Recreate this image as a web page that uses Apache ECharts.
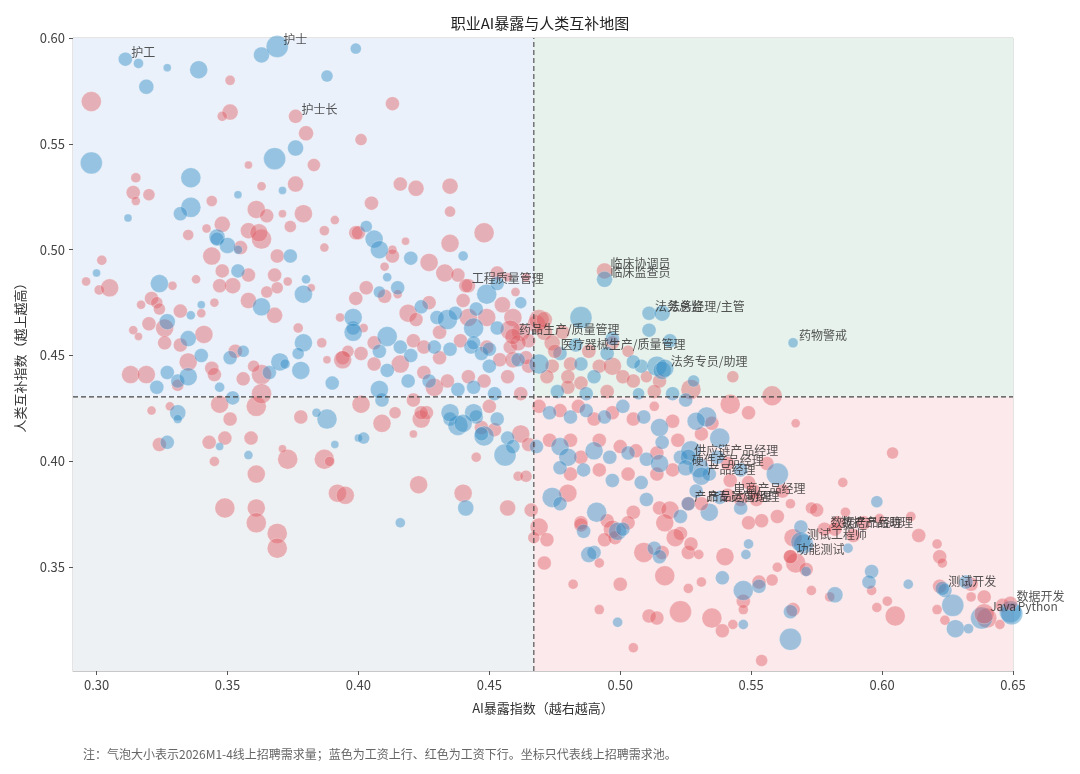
<!DOCTYPE html>
<html>
<head>
<meta charset="utf-8">
<script src="https://cdn.jsdelivr.net/npm/echarts@6/dist/echarts.min.js"></script>
<style>
  html, body { margin: 0; padding: 0; background: #fff; }
  #chart { width: 1080px; height: 774px; }
</style>
</head>
<body>
<div id="chart"></div>
<script>
// [AI暴露指数, 人类互补指数, 气泡直径]
var bluePoints = [
  [0.298,0.541,22],[0.316,0.588,10],[0.319,0.577,15],[0.327,0.586,8],[0.339,0.585,18],[0.363,0.592,16],[0.399,0.595,11],[0.388,0.582,12],
  [0.376,0.548,16],[0.368,0.543,22],[0.336,0.534,20],[0.312,0.515,8],[0.336,0.520,20],[0.332,0.517,14],[0.354,0.526,8],[0.371,0.528,8],
  [0.346,0.506,16],[0.374,0.497,14],[0.440,0.497,10],[0.420,0.496,14],[0.411,0.487,9],[0.403,0.511,12],[0.406,0.505,18],[0.408,0.500,18],
  [0.300,0.489,8],[0.324,0.484,18],[0.346,0.505,14],[0.350,0.502,16],[0.354,0.500,9],[0.354,0.490,14],[0.363,0.473,18],[0.379,0.479,18],
  [0.380,0.486,9],[0.327,0.466,16],[0.336,0.469,9],[0.340,0.474,8],[0.335,0.458,16],[0.340,0.450,14],[0.323,0.435,14],[0.327,0.442,14],
  [0.331,0.438,14],[0.335,0.440,18],[0.351,0.449,14],[0.356,0.452,12],[0.366,0.442,14],[0.370,0.447,18],[0.372,0.446,10],[0.378,0.443,18],
  [0.379,0.456,18],[0.377,0.451,12],[0.390,0.437,14],[0.398,0.463,14],[0.398,0.468,18],[0.347,0.435,10],[0.352,0.430,14],[0.331,0.423,16],
  [0.331,0.420,9],[0.388,0.420,20],[0.384,0.423,9],[0.327,0.409,14],[0.347,0.407,8],[0.358,0.403,9],[0.391,0.408,8],[0.400,0.411,8],
  [0.402,0.411,12],[0.409,0.429,14],[0.435,0.420,14],[0.438,0.417,20],[0.445,0.421,14],[0.448,0.412,20],[0.441,0.378,16],[0.416,0.371,10],
  [0.408,0.480,12],[0.415,0.482,14],[0.398,0.461,18],[0.411,0.459,20],[0.408,0.452,14],[0.424,0.473,14],[0.430,0.468,14],[0.434,0.467,20],
  [0.437,0.470,14],[0.444,0.463,20],[0.453,0.463,14],[0.416,0.454,14],[0.420,0.450,14],[0.429,0.454,14],[0.435,0.453,14],[0.443,0.454,14],
  [0.447,0.451,14],[0.450,0.445,14],[0.461,0.448,14],[0.411,0.443,14],[0.419,0.438,14],[0.427,0.438,14],[0.438,0.434,14],[0.444,0.435,14],
  [0.452,0.432,14],[0.408,0.434,18],[0.435,0.423,18],[0.444,0.423,18],[0.453,0.420,14],[0.449,0.479,20],[0.453,0.484,14],[0.445,0.472,14],
  [0.462,0.475,12],
  [0.444,0.456,14],[0.450,0.453,14],[0.469,0.446,20],[0.477,0.451,14],[0.485,0.446,14],[0.490,0.440,14],[0.495,0.451,14],[0.508,0.445,14],
  [0.514,0.445,20],[0.528,0.438,12],[0.485,0.468,22],[0.511,0.462,14],[0.519,0.457,14],[0.516,0.443,18],[0.483,0.455,14],[0.497,0.458,14],
  [0.505,0.447,14],[0.487,0.432,14],[0.507,0.432,12],[0.520,0.432,14],[0.476,0.433,14],
  [0.473,0.423,14],[0.481,0.421,14],[0.487,0.424,14],[0.494,0.421,14],[0.501,0.426,14],[0.509,0.421,14],[0.515,0.416,18],[0.533,0.421,20],
  [0.440,0.418,18],[0.447,0.413,14],[0.457,0.411,14],[0.459,0.407,14],[0.468,0.407,14],[0.477,0.407,18],[0.480,0.402,18],[0.490,0.405,18],
  [0.496,0.402,14],[0.503,0.404,14],[0.510,0.401,14],[0.516,0.409,14],[0.523,0.402,14],[0.456,0.403,22],[0.477,0.397,14],[0.486,0.396,14],
  [0.497,0.391,14],[0.508,0.390,14],[0.515,0.399,18],[0.474,0.383,20],[0.477,0.380,14],[0.491,0.376,20],[0.510,0.382,14],[0.486,0.367,14],
  [0.499,0.367,18],[0.513,0.359,14],[0.490,0.357,14],
  [0.525,0.429,14],[0.529,0.419,18],[0.538,0.411,20],[0.527,0.405,20],[0.530,0.397,20],[0.534,0.394,14],[0.537,0.402,14],[0.546,0.396,14],
  [0.560,0.394,22],[0.538,0.383,14],[0.534,0.376,18],[0.529,0.386,14],[0.523,0.374,14],[0.515,0.355,14],[0.549,0.361,10],[0.546,0.378,14],
  [0.569,0.369,14],[0.570,0.361,20],[0.571,0.348,10],[0.565,0.316,22],[0.565,0.329,14],[0.547,0.339,20],[0.547,0.323,10],[0.553,0.341,14],
  [0.539,0.345,14],[0.499,0.324,10],[0.488,0.356,16],[0.501,0.368,14],[0.548,0.356,10],[0.582,0.337,16],[0.598,0.381,12],[0.587,0.359,10],
  [0.596,0.348,14],[0.595,0.343,14],[0.610,0.342,10],[0.624,0.339,14],[0.627,0.332,22],[0.628,0.321,18],[0.633,0.321,10],[0.638,0.326,22],
  [0.649,0.329,22],[0.632,0.343,14]
];

var redPoints = [
  [0.298,0.570,20],[0.351,0.580,10],[0.351,0.565,16],[0.348,0.563,10],[0.380,0.555,15],[0.413,0.569,14],[0.401,0.552,12],[0.383,0.540,13],
  [0.358,0.540,8],[0.315,0.534,10],[0.314,0.527,14],[0.315,0.523,9],[0.320,0.526,12],[0.344,0.523,11],[0.363,0.530,9],[0.376,0.531,16],
  [0.361,0.519,18],[0.365,0.516,14],[0.371,0.517,8],[0.379,0.517,18],[0.391,0.514,9],[0.335,0.507,11],[0.358,0.509,16],[0.374,0.511,12],
  [0.387,0.509,10],[0.387,0.501,9],[0.399,0.508,14],[0.405,0.522,14],[0.416,0.531,14],[0.422,0.529,16],[0.435,0.530,16],[0.435,0.518,11],
  [0.448,0.508,20],[0.435,0.503,18],[0.418,0.504,8],[0.413,0.500,9],[0.413,0.497,14],[0.427,0.494,18],[0.400,0.508,14],
  [0.302,0.495,10],[0.296,0.485,9],[0.301,0.481,10],[0.305,0.482,18],[0.329,0.483,9],[0.338,0.486,9],[0.344,0.497,18],[0.348,0.512,16],
  [0.342,0.510,9],[0.355,0.501,14],[0.363,0.505,20],[0.362,0.508,18],[0.369,0.497,14],[0.348,0.490,14],[0.358,0.488,14],[0.352,0.483,16],
  [0.347,0.483,14],[0.358,0.476,16],[0.368,0.469,16],[0.365,0.480,12],[0.369,0.482,12],[0.368,0.488,14],[0.382,0.482,8],[0.373,0.485,9],
  [0.317,0.474,9],[0.321,0.477,14],[0.323,0.475,12],[0.324,0.472,12],[0.320,0.465,14],[0.326,0.463,18],[0.314,0.462,9],[0.316,0.459,8],
  [0.332,0.471,14],[0.340,0.470,9],[0.345,0.475,9],[0.341,0.460,18],[0.332,0.455,14],[0.326,0.456,14],[0.335,0.447,18],[0.344,0.444,14],
  [0.345,0.441,14],[0.313,0.441,18],[0.319,0.441,18],[0.331,0.436,12],[0.353,0.452,14],[0.356,0.439,14],[0.363,0.441,20],[0.360,0.445,12],
  [0.377,0.463,10],[0.386,0.456,10],[0.388,0.448,8],[0.394,0.449,14],[0.396,0.452,12],[0.393,0.468,9],[0.347,0.427,18],[0.351,0.420,14],
  [0.361,0.426,20],[0.363,0.432,20],[0.321,0.424,9],[0.328,0.426,9],[0.378,0.421,14],[0.324,0.408,14],[0.343,0.409,14],[0.349,0.411,14],
  [0.345,0.400,10],[0.359,0.411,14],[0.361,0.394,18],[0.373,0.401,20],[0.371,0.406,8],[0.387,0.401,20],[0.389,0.400,10],
  [0.349,0.378,20],[0.361,0.378,18],[0.361,0.371,20],[0.369,0.366,20],[0.369,0.359,20],[0.392,0.385,18],[0.395,0.384,18],[0.401,0.427,18],
  [0.409,0.418,18],[0.414,0.423,12],[0.421,0.413,8],[0.424,0.420,18],[0.426,0.423,14],[0.423,0.389,18],[0.457,0.378,16],
  [0.410,0.492,9],[0.433,0.489,18],[0.438,0.488,14],[0.442,0.483,14],[0.453,0.489,14],[0.457,0.487,9],[0.464,0.487,9],[0.460,0.480,9],
  [0.403,0.482,14],[0.399,0.477,14],[0.410,0.478,14],[0.415,0.479,9],[0.402,0.463,9],[0.406,0.456,14],[0.401,0.451,14],[0.394,0.448,18],
  [0.419,0.470,18],[0.422,0.467,14],[0.427,0.475,14],[0.431,0.461,14],[0.442,0.468,18],[0.449,0.468,18],[0.459,0.468,18],[0.462,0.461,18],
  [0.465,0.457,14],[0.468,0.465,18],[0.421,0.457,14],[0.425,0.454,14],[0.431,0.449,14],[0.439,0.457,14],[0.449,0.454,14],[0.454,0.448,14],
  [0.458,0.454,14],[0.465,0.445,14],[0.457,0.440,14],[0.406,0.446,14],[0.416,0.446,18],[0.425,0.442,14],[0.429,0.435,18],[0.434,0.438,14],
  [0.442,0.440,14],[0.448,0.438,14],[0.462,0.432,14],[0.421,0.429,14],[0.424,0.423,14],[0.450,0.426,14],[0.447,0.416,14],[0.440,0.476,14],
  [0.455,0.474,16],
  [0.458,0.462,20],[0.461,0.456,16],[0.459,0.448,16],[0.464,0.449,14],[0.469,0.467,20],[0.471,0.461,16],[0.474,0.445,14],[0.481,0.446,14],
  [0.480,0.440,14],[0.485,0.437,14],[0.492,0.445,14],[0.497,0.445,18],[0.501,0.440,14],[0.505,0.438,14],[0.510,0.440,12],[0.515,0.438,14],
  [0.527,0.434,20],[0.474,0.456,16],[0.478,0.461,14],[0.488,0.452,14],[0.503,0.452,12],[0.480,0.435,14],[0.495,0.433,14],[0.513,0.433,14],
  [0.472,0.440,14],[0.471,0.467,16],[0.497,0.456,14],[0.543,0.440,12],
  [0.469,0.426,14],[0.477,0.424,14],[0.484,0.426,14],[0.490,0.420,14],[0.497,0.423,14],[0.505,0.420,14],[0.513,0.426,10],[0.520,0.419,14],
  [0.535,0.418,14],[0.452,0.415,14],[0.462,0.413,18],[0.465,0.408,14],[0.473,0.410,14],[0.481,0.410,14],[0.485,0.402,14],[0.492,0.410,14],
  [0.500,0.407,14],[0.506,0.405,14],[0.514,0.404,14],[0.522,0.410,14],[0.445,0.402,10],[0.481,0.394,14],[0.492,0.396,14],[0.503,0.394,14],
  [0.514,0.394,14],[0.520,0.396,14],[0.440,0.385,18],[0.461,0.393,10],[0.464,0.393,12],[0.480,0.385,18],[0.495,0.372,14],[0.497,0.368,18],
  [0.505,0.376,14],[0.515,0.378,14],[0.469,0.369,18],[0.472,0.363,14],[0.485,0.371,14],[0.494,0.363,14],[0.509,0.357,20],[0.516,0.357,14],
  [0.523,0.366,14],[0.526,0.357,14],[0.466,0.377,14],[0.467,0.364,12],
  [0.542,0.427,20],[0.549,0.423,14],[0.558,0.431,20],[0.567,0.418,9],[0.531,0.413,14],[0.541,0.399,14],[0.556,0.399,14],[0.549,0.390,14],
  [0.542,0.391,14],[0.551,0.386,14],[0.546,0.382,14],[0.526,0.380,14],[0.519,0.377,18],[0.517,0.371,18],[0.521,0.364,18],[0.527,0.361,14],
  [0.530,0.356,10],[0.540,0.355,18],[0.549,0.371,14],[0.560,0.374,14],[0.554,0.372,14],[0.552,0.382,14],[0.562,0.386,14],[0.565,0.380,10],
  [0.573,0.378,12],[0.575,0.377,14],[0.566,0.364,18],[0.567,0.352,20],[0.565,0.355,14],[0.571,0.349,14],[0.560,0.350,10],[0.558,0.344,12],
  [0.566,0.330,14],[0.554,0.306,12],[0.547,0.334,14],[0.547,0.330,10],[0.553,0.343,14],[0.535,0.326,20],[0.539,0.320,14],[0.543,0.323,10],
  [0.523,0.329,22],[0.511,0.327,14],[0.514,0.326,14],[0.505,0.312,10],[0.492,0.330,10],[0.500,0.342,14],[0.482,0.342,10],[0.492,0.352,10],
  [0.471,0.352,14],[0.517,0.346,20],[0.526,0.340,10],[0.531,0.343,10],[0.485,0.370,14],[0.498,0.364,14],[0.503,0.371,14],[0.580,0.336,10],
  [0.573,0.339,10],[0.585,0.390,10],[0.604,0.404,12],[0.586,0.376,10],[0.583,0.371,14],[0.589,0.365,14],[0.593,0.371,14],[0.599,0.373,10],
  [0.611,0.374,10],[0.614,0.365,14],[0.621,0.361,10],[0.622,0.355,14],[0.623,0.352,10],[0.596,0.339,10],[0.602,0.334,10],[0.598,0.331,10],
  [0.605,0.327,20],[0.622,0.341,14],[0.621,0.330,10],[0.624,0.325,10],[0.634,0.342,14],[0.634,0.336,10],[0.639,0.336,14],[0.640,0.326,20],
  [0.645,0.323,10],[0.646,0.332,14]
];

// 标注职业
var labelNames = ['护工','护士','护士长','工程质量管理','药品生产/质量管理','医疗器械生产/质量管理','临床协调员','临床监查员',
  '法务总监','法务经理/主管','法务专员/助理','药物警戒','供应链产品经理','硬件产品经理','产品经理','电商产品经理',
  '产品专员/助理','产品运营经理','数据产品经理','数据产品助理','测试工程师','功能测试','测试开发','Java','Python','数据开发'];
var labelX = [0.311,0.369,0.376,0.441,0.459,0.475,0.494,0.494,0.511,0.516,0.517,0.566,0.526,0.525,0.531,0.541,
  0.526,0.531,0.578,0.582,0.569,0.565,0.623,0.639,0.6495,0.649];
var labelY = [0.590,0.596,0.563,0.483,0.459,0.452,0.490,0.486,0.470,0.470,0.444,0.456,0.402,0.397,0.393,0.384,
  0.380,0.380,0.368,0.368,0.362,0.355,0.340,0.328,0.328,0.333];
var labelSize = [14,22,14,14,16,14,16,16,14,16,18,10,16,16,18,14,14,14,14,14,20,14,14,20,22,14];
var labelUp = [1,1,0,0,0,0,0,1,1,1,1,1,1,1,1,0,1,0,0,0,1,0,1,0,1,0]; // 1 = 工资上行

var xTicks = [0.30,0.35,0.40,0.45,0.50,0.55,0.60,0.65];
var yTicks = [0.35,0.40,0.45,0.50,0.55,0.60];

var X_MIN = 0.291, X_MAX = 0.65, Y_MIN = 0.301, Y_MAX = 0.60;
var X_SPLIT = 0.467, Y_SPLIT = 0.4305;

var BLUE = 'rgba(47,138,196,0.56)';
var RED = 'rgba(222,88,94,0.54)';
var FONT = '"Noto Sans CJK SC", "Noto Sans", sans-serif';

var chart = echarts.init(document.getElementById('chart'));

var labeled = labelNames.map(function (n, i) {
  return {
    name: n,
    value: [labelX[i], labelY[i], labelSize[i]],
    itemStyle: { color: labelUp[i] ? BLUE : RED }
  };
});

function bubble(name, data, color) {
  return {
    name: name,
    type: 'scatter',
    z: 3,
    data: data,
    symbolSize: function (v) { return v[2]; },
    itemStyle: { color: color, borderColor: 'rgba(255,255,255,0.5)', borderWidth: 0.6 },
    emphasis: { disabled: true }
  };
}

function splitLine(data) {
  return {
    type: 'line', z: 5, silent: true, data: data,
    symbol: 'none', animation: false,
    lineStyle: { color: '#444', type: [5, 3], width: 1.1 }
  };
}

var option = {
  animation: false,
  textStyle: { fontFamily: FONT },
  title: {
    text: '职业AI暴露与人类互补地图',
    left: 'center',
    top: 11,
    textStyle: { fontSize: 15, fontWeight: 'normal', color: '#222', fontFamily: FONT }
  },
  grid: {
    left: 73, right: 67, top: 38, bottom: 103,
    show: true, borderColor: '#c8c8c8', borderWidth: 1, backgroundColor: 'transparent'
  },
  xAxis: {
    type: 'value', min: X_MIN, max: X_MAX,
    name: 'AI暴露指数（越右越高）', nameLocation: 'middle', nameGap: 31,
    nameTextStyle: { fontSize: 13, color: '#333' },
    axisLine: { show: true, lineStyle: { color: '#c8c8c8' } },
    axisTick: { show: true, customValues: xTicks, length: 4, lineStyle: { color: '#555' } },
    axisLabel: { customValues: xTicks, fontSize: 13, color: '#444', margin: 8,
      formatter: function (v) { return v.toFixed(2); } },
    splitLine: { show: false }
  },
  yAxis: {
    type: 'value', min: Y_MIN, max: Y_MAX,
    name: '人类互补指数（越上越高）', nameLocation: 'middle', nameGap: 46,
    nameTextStyle: { fontSize: 13, color: '#333' },
    axisLine: { show: true, lineStyle: { color: '#c8c8c8' } },
    axisTick: { show: true, customValues: yTicks, length: 4, lineStyle: { color: '#555' } },
    axisLabel: { customValues: yTicks, fontSize: 13, color: '#444', margin: 8,
      formatter: function (v) { return v.toFixed(2); } },
    splitLine: { show: false }
  },
  graphic: [
    { type: 'text', left: 75, top: 36, silent: true,
      style: { text: '人类保护区\n低暴露·高互补', fill: '#4a6fa5', font: '13px ' + FONT, lineHeight: 17 } },
    { type: 'text', right: 67, top: 36, silent: true,
      style: { text: '协同升级区\n高暴露·高互补', fill: '#3f8a5f', font: '13px ' + FONT, lineHeight: 17, align: 'right' } },
    { type: 'text', left: 75, top: 637, silent: true,
      style: { text: '低冲击低成长区\n低暴露·低互补', fill: '#555', font: '13px ' + FONT, lineHeight: 17 } },
    { type: 'text', right: 67, top: 637, silent: true,
      style: { text: '替代压力区\n高暴露·低互补', fill: '#b24a6c', font: '13px ' + FONT, lineHeight: 17, align: 'right' } },
    { type: 'text', left: 83, top: 748, silent: true,
      style: { text: '注：气泡大小表示2026M1-4线上招聘需求量；蓝色为工资上行、红色为工资下行。坐标只代表线上招聘需求池。',
        fill: '#666', font: '12px ' + FONT } }
  ],
  series: [
    {
      type: 'scatter', data: [], z: 1, silent: true,
      markArea: {
        silent: true,
        data: [
          [{ xAxis: X_MIN, yAxis: Y_SPLIT, itemStyle: { color: '#eaf1fa' } }, { xAxis: X_SPLIT, yAxis: Y_MAX }],
          [{ xAxis: X_SPLIT, yAxis: Y_SPLIT, itemStyle: { color: '#e7f2ec' } }, { xAxis: X_MAX, yAxis: Y_MAX }],
          [{ xAxis: X_MIN, yAxis: Y_MIN, itemStyle: { color: '#eef1f4' } }, { xAxis: X_SPLIT, yAxis: Y_SPLIT }],
          [{ xAxis: X_SPLIT, yAxis: Y_MIN, itemStyle: { color: '#fce9eb' } }, { xAxis: X_MAX, yAxis: Y_SPLIT }]
        ]
      }
    },
    bubble('工资下行', redPoints, RED),
    bubble('工资上行', bluePoints, BLUE),
    {
      type: 'scatter', z: 4,
      data: labeled,
      symbolSize: function (v) { return v[2]; },
      itemStyle: { borderColor: 'rgba(255,255,255,0.5)', borderWidth: 0.6 },
      emphasis: { disabled: true },
      label: {
        show: true, position: 'inside', fontSize: 12, color: '#2a2a2a',
        formatter: function (p) { return p.name; }
      },
      labelLayout: function (p) {
        return {
          x: p.rect.x + p.rect.width / 2 + 6,
          y: p.rect.y + p.rect.height / 2 - 7,
          align: 'left', verticalAlign: 'middle', hideOverlap: false
        };
      }
    },
    splitLine([[X_SPLIT, Y_MIN], [X_SPLIT, Y_MAX]]),
    splitLine([[X_MIN, Y_SPLIT], [X_MAX, Y_SPLIT]])
  ]
};

chart.setOption(option);
</script>
</body>
</html>
